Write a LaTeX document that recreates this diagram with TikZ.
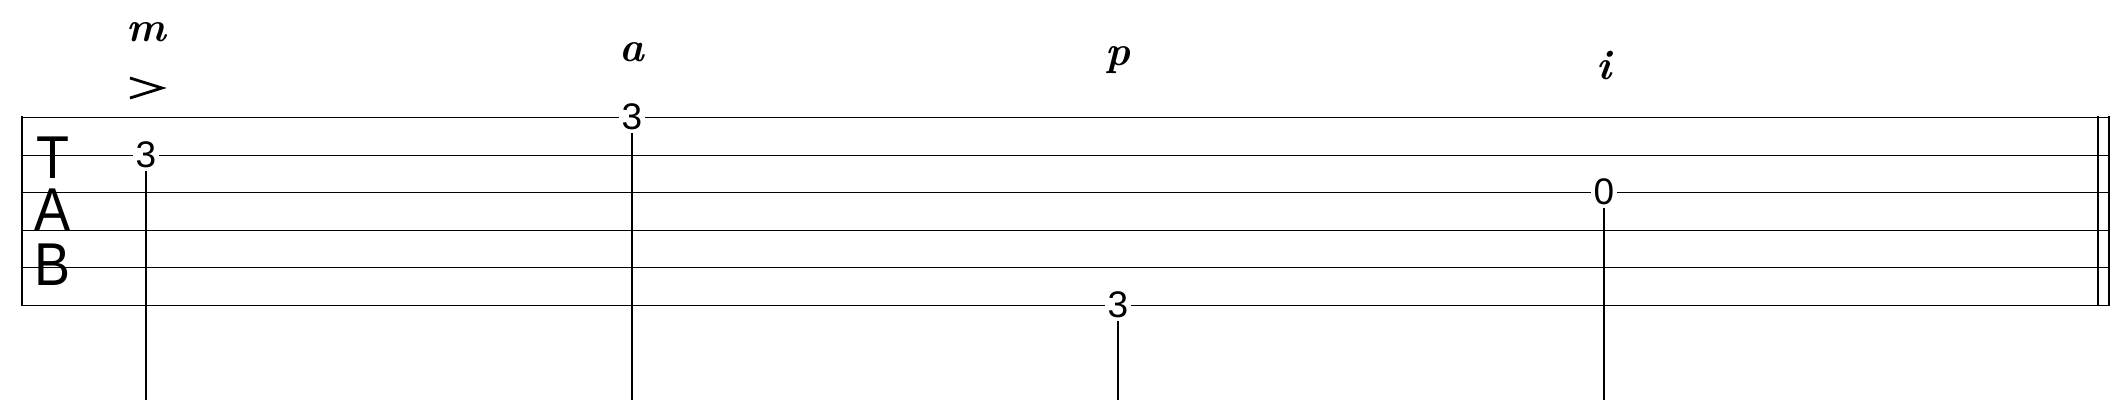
\documentclass[tikz,border=0pt]{standalone}
\usepackage{fontspec}
\setsansfont{Liberation Sans}
\begin{document}
\begin{tikzpicture}[x=1pt,y=-1pt,
  fret/.style={fill=white,inner sep=3pt,font=\sffamily\fontsize{37}{37}\selectfont},
  tabl/.style={font=\sffamily\fontsize{54}{54}\selectfont,inner sep=0pt,yscale=1.12},
  fing/.style={font=\bfseries\itshape\fontsize{42}{42}\selectfont,inner sep=0pt},
  stem/.style={line width=2.6pt}]
\useasboundingbox (0,0) rectangle (2124,416);
\foreach \y in {117,155,192,230,267,305} \draw[line width=1pt] (22,\y) -- (2110,\y);
\draw[line width=2.5pt] (22,116) -- (22,306);
\draw[line width=2.5pt] (2098,116) -- (2098,306);
\draw[line width=2.5pt] (2109,116) -- (2109,306);
\node[tabl] (T) at (53,158) {T};
\node[tabl] (A) at (53,210) {A};
\node[tabl] (B) at (53,265) {B};
\node[fret] (n1) at (146,155) {3};
\node[fret] (n2) at (632,117) {3};
\node[fret] (n3) at (1118,305) {3};
\node[fret] (n4) at (1604,192) {0};
\coordinate (e1) at (146,400);
\coordinate (e2) at (632,400);
\coordinate (e3) at (1118,400);
\coordinate (e4) at (1604,400);
\draw[stem] (n1.south) -- (e1);
\draw[stem] (n2.south) -- (e2);
\draw[stem] (n3.south) -- (e3);
\draw[stem] (n4.south) -- (e4);
\node[fing] (f1) at (146,32) {m};
\node[fing] (f2) at (632,52) {a};
\node[fing] (f3) at (1118,60) {p};
\node[fing] (f4) at (1604,66) {i};
\draw[line width=2.8pt] (130,78) -- (162,88) -- (130,98);
\end{tikzpicture}
\end{document}
